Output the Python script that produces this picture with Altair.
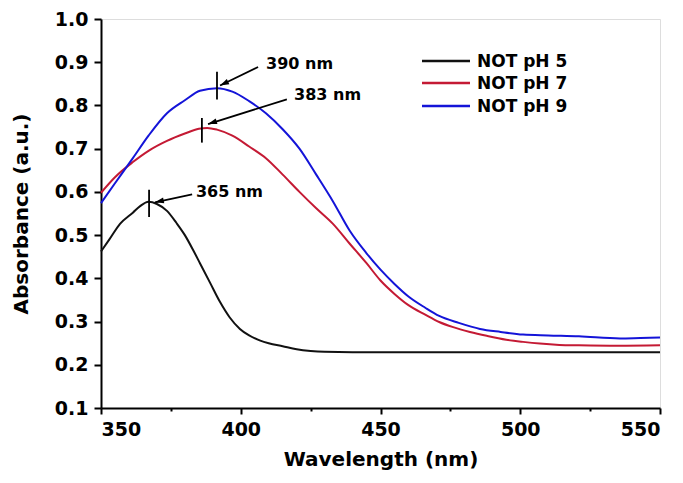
import math
import altair as alt
import pandas as pd

# ---- data ----
wl_ph5 = [350, 353, 356.8, 361.4, 364, 367, 370, 373.6, 377, 380, 383, 385.4, 389, 392.6, 396,
          399.7, 403, 407, 410, 415, 420, 425, 430, 440, 460, 480, 500, 520, 550]
ab_ph5 = [0.462, 0.49, 0.526, 0.552, 0.567, 0.577, 0.572, 0.556, 0.528, 0.50, 0.465, 0.435, 0.39,
          0.345, 0.31, 0.283, 0.268, 0.256, 0.25, 0.243, 0.236, 0.232, 0.23, 0.229, 0.229, 0.229,
          0.229, 0.229, 0.229]

wl_ph7 = [350, 355, 361.4, 367, 373.6, 380, 385, 388, 391.5, 397, 403, 409, 415, 421, 427, 433,
          439, 445, 450, 455, 460, 466, 471, 476, 482, 488, 495, 501, 507, 514, 521, 535, 550]
ab_ph7 = [0.598, 0.634, 0.669, 0.695, 0.718, 0.735, 0.746, 0.748, 0.744, 0.73, 0.705, 0.678, 0.64,
          0.60, 0.562, 0.526, 0.48, 0.435, 0.395, 0.364, 0.338, 0.316, 0.299, 0.287, 0.276, 0.267,
          0.258, 0.253, 0.249, 0.246, 0.245, 0.244, 0.245]

wl_ph9 = [350, 355, 361.4, 367, 373.6, 380, 385.4, 391.5, 397, 403, 409, 415, 421, 427, 433, 439,
          445, 450, 455, 460, 466, 471, 478, 485.6, 493, 501, 510, 521, 535.7, 543, 550]
ab_ph9 = [0.574, 0.62, 0.678, 0.73, 0.782, 0.812, 0.834, 0.84, 0.832, 0.81, 0.782, 0.745, 0.70,
          0.64, 0.578, 0.51, 0.458, 0.42, 0.387, 0.358, 0.332, 0.313, 0.297, 0.283, 0.276, 0.27,
          0.268, 0.266, 0.261, 0.262, 0.263]

series_names = ["NOT pH 5", "NOT pH 7", "NOT pH 9"]
series_colors = ["#111111", "#c41a34", "#1414d8"]

# peak annotations (data units)
ann_text = ["390 nm", "383 nm", "365 nm"]
ann_text_x = [408.7, 418.7, 383.6]
ann_text_y = [0.896, 0.825, 0.599]
arrow_x1 = [406.2, 416.5, 382.6]
arrow_y1 = [0.889, 0.814, 0.594]
arrow_x2 = [392.6, 388.3, 369.3]
arrow_y2 = [0.846, 0.757, 0.576]
peak_x = [391.5, 386.1, 367.2]
peak_y_top = [0.878, 0.771, 0.605]
peak_y_bot = [0.814, 0.714, 0.542]

x_ticks = [350, 375, 400, 425, 450, 475, 500, 525, 550]
y_ticks = [0.1, 0.2, 0.3, 0.4, 0.5, 0.6, 0.7, 0.8, 0.9, 1.0]

# ---- layout / style ----
W, H = 559, 389
FONT = "DejaVu Sans"
LEG_X1, LEG_X2, LEG_TX = 321, 369, 376
LEG_ROWS = [42, 64, 87]

rows = []
for name, xs, ys in zip(series_names, [wl_ph5, wl_ph7, wl_ph9], [ab_ph5, ab_ph7, ab_ph9]):
    for i, (a, b) in enumerate(zip(xs, ys)):
        rows.append({"series": name, "wl": a, "abs": b, "order": i})
lines_df = pd.DataFrame(rows)

px_per_x = W / 200.0
px_per_y = H / 0.9
angles = []
for x1, y1, x2, y2 in zip(arrow_x1, arrow_y1, arrow_x2, arrow_y2):
    dx = (x2 - x1) * px_per_x
    dy = -(y2 - y1) * px_per_y
    angles.append(math.degrees(math.atan2(dx, -dy)) % 360)

ann_df = pd.DataFrame({
    "text": ann_text, "tx": ann_text_x, "ty": ann_text_y,
    "x1": arrow_x1, "y1": arrow_y1, "x2": arrow_x2, "y2": arrow_y2,
    "px": peak_x, "pyt": peak_y_top, "pyb": peak_y_bot, "angle": angles,
})

xscale = alt.Scale(domain=[350, 550], nice=False, zero=False)
yscale = alt.Scale(domain=[0.1, 1.0], nice=False, zero=False)
cscale = alt.Scale(domain=series_names, range=series_colors)

xaxis = alt.Axis(
    title="Wavelength (nm)", values=x_ticks,
    labelExpr="datum.value % 50 === 0 ? datum.label : ''",
    tickSize={"condition": {"test": "datum.value % 50 === 0", "value": 6}, "value": 3},
    labelFontSize=19, labelFontWeight="bold", labelFont=FONT, labelColor="black",
    titleFontSize=20, titleFontWeight="bold", titleFont=FONT, titleColor="black",
    titlePadding=10, labelPadding=6, grid=False,
    domainColor="black", domainWidth=2, tickColor="black", tickWidth=2,
)
yaxis = alt.Axis(
    title="Absorbance (a.u.)", values=y_ticks, format=".1f",
    labelFontSize=19, labelFontWeight="bold", labelFont=FONT, labelColor="black",
    titleFontSize=20, titleFontWeight="bold", titleFont=FONT, titleColor="black",
    titlePadding=23, labelPadding=6, tickSize=7, grid=False,
    domainColor="black", domainWidth=2, tickColor="black", tickWidth=2,
)

lines = alt.Chart(lines_df).mark_line(strokeWidth=2, interpolate="monotone").encode(
    x=alt.X("wl:Q", scale=xscale, axis=xaxis),
    y=alt.Y("abs:Q", scale=yscale, axis=yaxis),
    color=alt.Color("series:N", scale=cscale, legend=None),
    order="order:Q",
)

arrows = alt.Chart(ann_df).mark_rule(color="black", strokeWidth=1.8).encode(
    x=alt.X("x1:Q", scale=xscale), y=alt.Y("y1:Q", scale=yscale),
    x2="x2:Q", y2="y2:Q",
)
heads = alt.Chart(ann_df).mark_point(
    shape="M0,0L0.55,1.7L-0.55,1.7Z", filled=True, color="black", size=110, opacity=1,
).encode(
    x=alt.X("x2:Q", scale=xscale), y=alt.Y("y2:Q", scale=yscale),
    angle=alt.Angle("angle:Q", scale=None),
)
peaks = alt.Chart(ann_df).mark_rule(color="black", strokeWidth=1.8).encode(
    x=alt.X("px:Q", scale=xscale), y=alt.Y("pyt:Q", scale=yscale), y2="pyb:Q",
)
labels = alt.Chart(ann_df).mark_text(
    align="left", baseline="middle", font=FONT, fontSize=16, fontWeight="bold", color="black", dx=1,
).encode(
    x=alt.X("tx:Q", scale=xscale), y=alt.Y("ty:Q", scale=yscale), text="text:N",
)

legend_layers = []
for i, name in enumerate(series_names):
    ldf = pd.DataFrame({"series": [name]})
    legend_layers.append(
        alt.Chart(ldf).mark_rule(strokeWidth=2.5).encode(
            x=alt.value(LEG_X1), x2=alt.value(LEG_X2), y=alt.value(LEG_ROWS[i]),
            color=alt.Color("series:N", scale=cscale, legend=None),
        )
    )
    legend_layers.append(
        alt.Chart(ldf).mark_text(
            align="left", baseline="middle", font=FONT, fontSize=17, fontWeight="bold", color="black",
        ).encode(x=alt.value(LEG_TX), y=alt.value(LEG_ROWS[i] + 1), text="series:N")
    )

chart = alt.layer(lines, peaks, arrows, heads, labels, *legend_layers).properties(
    width=W, height=H,
    autosize=alt.AutoSizeParams(type="none"),
    padding={"left": 93, "top": 11, "right": 15, "bottom": 70},
).configure_view(stroke="black", strokeWidth=2).configure(background="white")

chart.save("out.html", embed_options={"renderer": "svg", "actions": False})
